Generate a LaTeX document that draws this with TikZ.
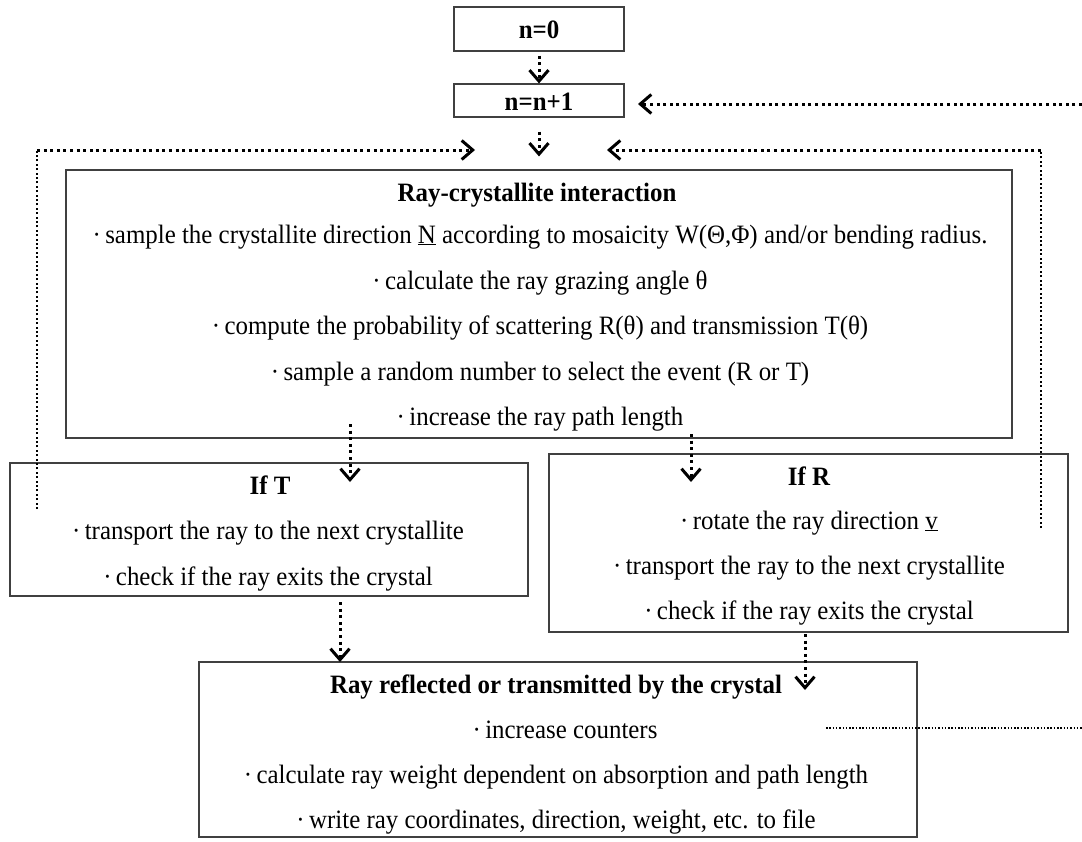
\documentclass[tikz,border=0pt]{standalone}
\usepackage{fontspec}
\setmainfont{Liberation Serif}
\newfontfamily\reffont{Liberation Serif}[FakeStretch=0.94]
\usetikzlibrary{arrows.meta}
\begin{document}
\begin{tikzpicture}[x=1pt,y=-1pt,
  box/.style={draw=black!75, line width=1.2pt, rectangle, inner sep=0pt},
  tx/.style={font=\reffont\fontsize{26.5}{30}\selectfont, inner sep=0pt, anchor=base},
  ttl/.style={tx, font=\reffont\fontsize{26.5}{30}\selectfont\bfseries},
  darrow/.style={line width=3pt, dash pattern=on 3pt off 3.6pt,
    -{Straight Barb[length=11pt,width=19pt,line width=3pt]}},
  fine/.style={line width=2pt, dash pattern=on 2pt off 2.4pt},
  finer/.style={line width=1.5pt, dash pattern=on 1.5pt off 1.8pt}]
\useasboundingbox (0,0) rectangle (1082,841);
% boxes
\node[box, minimum width=170pt, minimum height=44pt] (n0) at (539,29) {};
\node[box, minimum width=170pt, minimum height=33pt] (n1) at (539,100.5) {};
\node[box, minimum width=946pt, minimum height=268pt] (ray) at (539,304) {};
\node[box, minimum width=518pt, minimum height=133pt] (ift) at (269,529.5) {};
\node[box, minimum width=519pt, minimum height=178pt] (ifr) at (808.5,543) {};
\node[box, minimum width=718pt, minimum height=175pt] (out) at (558,749.5) {};
% texts
\node[ttl] (tn0) at (539,38) {n=0};
\node[ttl] (tn1) at (539,110) {n=n+1};
\node[ttl] (rt) at (537,201) {Ray-crystallite interaction};
\node[tx] (r1) at (540,243) {·\,sample the crystallite direction \underline{N} according to mosaicity W(Θ,Φ) and/or bending radius.};
\node[tx] (r2) at (540,289) {·\,calculate the ray grazing angle θ};
\node[tx] (r3) at (540,334) {·\,compute the probability of scattering R(θ) and transmission T(θ)};
\node[tx] (r4) at (540,380) {·\,sample a random number to select the event (R or T)};
\node[tx] (r5) at (540,425) {·\,increase the ray path length};
\node[ttl] (tt) at (270,494) {If T};
\node[tx] (t1) at (268,539) {·\,transport the ray to the next crystallite};
\node[tx] (t2) at (268,585) {·\,check if the ray exits the crystal};
\node[ttl] (rr) at (809,485) {If R};
\node[tx] (q1) at (809,529) {·\,rotate the ray direction \underline{v}};
\node[tx] (q2) at (809,574) {·\,transport the ray to the next crystallite};
\node[tx] (q3) at (809,619) {·\,check if the ray exits the crystal};
\node[ttl] (ot) at (556,693) {Ray reflected or transmitted by the crystal};
\node[tx] (o1) at (565,738) {·\,increase counters};
\node[tx] (o2) at (556,783) {·\,calculate ray weight dependent on absorption and path length};
\node[tx] (o3) at (556,828) {·\,write ray coordinates, direction, weight, etc. to file};
% connector end points
\coordinate (a1s) at (350,424);
\coordinate (a1e) at (350,482);
\coordinate (a2s) at (691,434);
\coordinate (a2e) at (691,482);
\coordinate (a3s) at (340,602);
\coordinate (a3e) at (340,662);
\coordinate (a4s) at (805,634);
\coordinate (a4e) at (805,690);
\coordinate (lb) at (37,509);
\coordinate (lc) at (37,150);
\coordinate (la) at (475,150);
\coordinate (rb) at (1041,528);
\coordinate (rc) at (1041,150);
\coordinate (ra) at (607,150);
\coordinate (tr) at (1082,104);
\coordinate (ta) at (638,104);
\coordinate (bs) at (826,728);
\coordinate (be) at (1082,728);
% connectors
\draw[darrow, shorten <=4pt] (n0.south) -- (n1.north);
\draw[darrow, shorten <=14pt, shorten >=13pt] (n1.south) -- (ray.north);
\draw[darrow] (a1s) -- (a1e);
\draw[darrow] (a2s) -- (a2e);
\draw[darrow] (a3s) -- (a3e);
\draw[darrow] (a4s) -- (a4e);
\draw[fine] (lb) -- (lc);
\draw[darrow] (lc) -- (la);
\draw[fine] (rb) -- (rc);
\draw[darrow] (rc) -- (ra);
\draw[darrow] (tr) -- (ta);
\draw[finer] (bs) -- (be);
\end{tikzpicture}
\end{document}
